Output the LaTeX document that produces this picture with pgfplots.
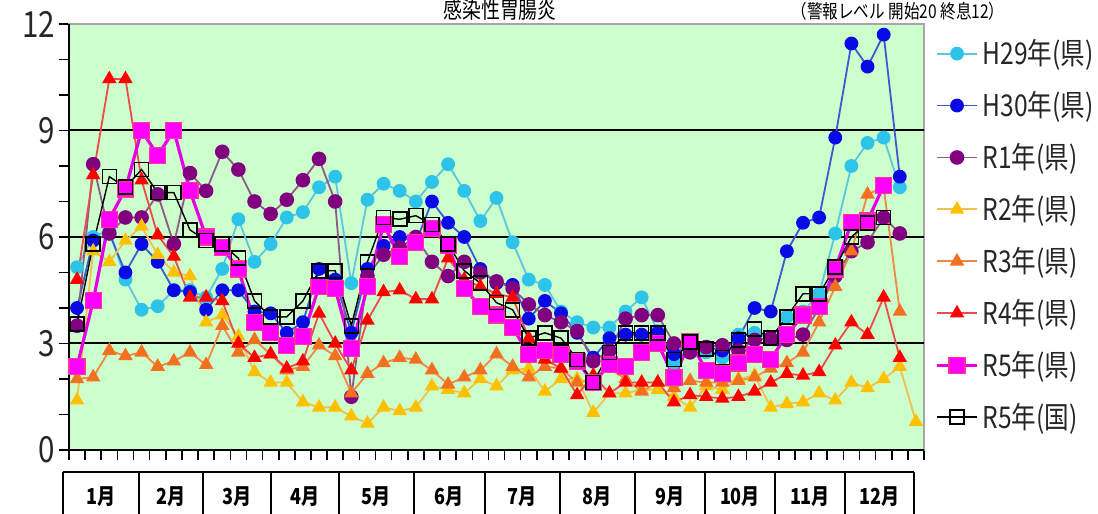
\documentclass[border=0pt]{standalone}
\usepackage{pgfplots}
\pgfplotsset{compat=1.18}
\usepackage{fontspec}
\setmainfont{Noto Sans CJK JP}[FakeStretch=0.82]
\definecolor{bggreen}{HTML}{CCFFCC}
\definecolor{mH29}{HTML}{2EC4EA}\definecolor{lH29}{HTML}{5CC6E0}
\definecolor{mH30}{HTML}{0A0AE6}\definecolor{lH30}{HTML}{3A5AD0}
\definecolor{mR1}{HTML}{800080}\definecolor{lR1}{HTML}{8A5A8A}
\definecolor{mR2}{HTML}{FFC000}\definecolor{lR2}{HTML}{F0C050}
\definecolor{mR3}{HTML}{F37021}\definecolor{lR3}{HTML}{EE8844}
\definecolor{mR4}{HTML}{FF0000}\definecolor{lR4}{HTML}{E84C4C}
\definecolor{mR5}{HTML}{FF00FF}\definecolor{dR5}{HTML}{FF3399}\definecolor{lR5}{HTML}{E400E4}
\begin{document}
\begin{tikzpicture}
\useasboundingbox (0,0) rectangle (549pt,257pt);
\begin{axis}[
  at={(34.5pt,32pt)}, anchor=south west,
  scale only axis, width=427.5pt, height=213pt,
  xmin=0.5, xmax=53.5, ymin=0, ymax=12,
  axis background/.style={fill=bggreen},
  axis line style={draw=gray!70, line width=0.6pt},
  xtick={0.5,1.5,...,53.5}, xticklabels={},
  ytick={0,3,6,9,12},
  minor ytick={1,2,4,5,7,8,10,11},
  tick align=outside, tick pos=left,
  major tick length=5pt, minor tick length=5pt,
  tick style={black, line width=0.8pt},
  /pgf/number format/assume math mode=true,
  yticklabel style={font=\fontsize{18}{18}\selectfont, text=black!85, xshift=1.5pt},
  extra y ticks={3,6,9}, extra y tick labels={},
  extra y tick style={grid=major, major tick length=0pt},
  major grid style={black, line width=1pt},
  clip=false,
  legend style={at={(1.0129,0.974)}, anchor=north west, draw=none, fill=none,
    font=\fontsize{15}{15}\selectfont, text=black!85, row sep=7.8pt, inner sep=0pt,
    /tikz/every even column/.append style={column sep=3pt}},
  legend cell align=left,
  legend image code/.code={\draw[mark repeat=2,mark phase=2] plot coordinates {(0pt,0pt) (10pt,0pt) (20pt,0pt)};},
]
\addplot[color=lH29, line width=0.9pt, mark=*, mark size=3pt, mark options={fill=mH29, draw=mH29}] coordinates {
(1,5.15)(2,6.0)(3,6.2)(4,4.8)(5,3.95)(6,4.05)(7,4.5)(8,4.5)(9,4.3)(10,5.1)
(11,6.5)(12,5.3)(13,5.8)(14,6.55)(15,6.7)(16,7.4)(17,7.7)(18,4.7)(19,7.05)(20,7.5)
(21,7.3)(22,7.0)(23,7.55)(24,8.05)(25,7.3)(26,6.45)(27,7.1)(28,5.85)(29,4.8)(30,4.65)
(31,3.9)(32,3.6)(33,3.45)(34,3.45)(35,3.9)(36,4.3)(37,3.35)(38,2.45)(39,2.9)(40,2.75)
(41,2.6)(42,3.25)(43,3.3)(44,3.15)(45,3.75)(46,3.9)(47,4.4)(48,6.1)(49,8.0)(50,8.65)
(51,8.8)(52,7.4)};
\addlegendentry{H29年(県)}
\addplot[color=lH30, line width=0.9pt, mark=*, mark size=3pt, mark options={fill=mH30, draw=mH30}] coordinates {
(1,4.0)(2,5.9)(3,6.1)(4,5.0)(5,5.8)(6,5.3)(7,4.5)(8,4.45)(9,3.95)(10,4.5)
(11,4.5)(12,3.9)(13,3.85)(14,3.3)(15,3.6)(16,5.1)(17,4.8)(18,3.3)(19,5.1)(20,5.75)
(21,6.0)(22,5.85)(23,7.0)(24,6.4)(25,6.0)(26,5.1)(27,4.7)(28,4.65)(29,3.7)(30,4.2)
(31,3.85)(32,3.3)(33,2.6)(34,3.15)(35,3.25)(36,3.25)(37,3.3)(38,2.7)(39,3.0)(40,2.9)
(41,2.8)(42,3.15)(43,4.0)(44,3.9)(45,5.6)(46,6.4)(47,6.55)(48,8.8)(49,11.45)(50,10.8)
(51,11.7)(52,7.7)};
\addlegendentry{H30年(県)}
\addplot[color=lR1, line width=0.9pt, mark=*, mark size=3.2pt, mark options={fill=mR1, draw=mR1}] coordinates {
(1,3.5)(2,8.05)(3,6.1)(4,6.55)(5,6.55)(6,7.2)(7,5.8)(8,7.8)(9,7.3)(10,8.4)
(11,7.9)(12,7.0)(13,6.65)(14,7.05)(15,7.6)(16,8.2)(17,7.0)(18,1.5)(19,4.9)(20,5.5)
(21,5.7)(22,6.0)(23,5.3)(24,4.9)(25,5.3)(26,5.0)(27,4.75)(28,4.55)(29,4.1)(30,3.8)
(31,3.6)(32,3.35)(33,2.5)(34,2.8)(35,3.7)(36,3.8)(37,3.8)(38,3.0)(39,2.75)(40,2.9)
(41,2.95)(42,2.8)(43,3.1)(44,3.15)(45,3.1)(46,3.25)(47,4.0)(48,4.9)(49,5.6)(50,5.85)
(51,6.55)(52,6.1)};
\addlegendentry{R1年(県)}
\addplot[color=lR2, line width=0.9pt, mark=triangle*, mark size=3.3pt, mark options={fill=mR2, draw=mR2}] coordinates {
(1,1.4)(2,5.6)(3,5.3)(4,5.9)(5,6.3)(6,5.5)(7,5.0)(8,4.9)(9,3.6)(10,3.8)
(11,3.2)(12,2.2)(13,1.9)(14,1.9)(15,1.35)(16,1.2)(17,1.2)(18,0.95)(19,0.75)(20,1.2)
(21,1.1)(22,1.2)(23,1.8)(24,1.7)(25,1.6)(26,2.0)(27,1.8)(28,2.25)(29,2.3)(30,1.65)
(31,2.0)(32,2.0)(33,1.05)(34,1.6)(35,1.6)(36,1.7)(37,1.7)(38,1.5)(39,1.2)(40,1.8)
(41,1.7)(42,2.0)(43,2.1)(44,1.2)(45,1.3)(46,1.35)(47,1.6)(48,1.4)(49,1.9)(50,1.75)
(51,2.0)(52,2.35)(53,0.8)};
\addlegendentry{R2年(県)}
\addplot[color=lR3, line width=0.9pt, mark=triangle*, mark size=3.3pt, mark options={fill=mR3, draw=mR3}] coordinates {
(1,2.0)(2,2.05)(3,2.8)(4,2.65)(5,2.75)(6,2.35)(7,2.5)(8,2.75)(9,2.4)(10,3.5)
(11,2.75)(12,3.1)(13,2.7)(14,2.25)(15,2.35)(16,2.95)(17,2.65)(18,1.6)(19,2.15)(20,2.45)
(21,2.6)(22,2.55)(23,2.25)(24,1.85)(25,2.05)(26,2.25)(27,2.7)(28,2.35)(29,2.05)(30,2.35)
(31,2.3)(32,1.9)(33,2.0)(34,2.3)(35,2.0)(36,1.65)(37,1.9)(38,1.75)(39,1.95)(40,1.9)
(41,1.9)(42,1.95)(43,2.05)(44,2.3)(45,2.45)(46,2.75)(47,3.6)(48,4.6)(49,5.6)(50,7.2)
(51,7.4)(52,3.9)};
\addlegendentry{R3年(県)}
\addplot[color=lR4, line width=0.9pt, mark=triangle*, mark size=3.3pt, mark options={fill=mR4, draw=mR4}] coordinates {
(1,4.8)(2,7.75)(3,10.45)(4,10.45)(5,7.6)(6,6.05)(7,5.45)(8,4.3)(9,4.3)(10,4.2)
(11,3.0)(12,2.6)(13,2.7)(14,2.3)(15,2.5)(16,3.85)(17,3.0)(18,2.25)(19,3.65)(20,4.45)
(21,4.5)(22,4.25)(23,4.25)(24,5.4)(25,4.8)(26,4.6)(27,4.4)(28,4.3)(29,3.15)(30,2.55)
(31,2.3)(32,1.55)(33,2.1)(34,1.6)(35,1.9)(36,1.9)(37,1.9)(38,1.35)(39,1.55)(40,1.5)
(41,1.45)(42,1.5)(43,1.65)(44,1.9)(45,2.15)(46,2.1)(47,2.2)(48,2.95)(49,3.6)(50,3.25)
(51,4.3)(52,2.6)};
\addlegendentry{R4年(県)}
\addplot[color=lR5, line width=1.6pt, mark=square*, mark size=4pt, mark options={fill=mR5, draw=dR5, line width=0.6pt}] coordinates {
(1,2.35)(2,4.2)(3,6.5)(4,7.35)(5,9.0)(6,8.3)(7,9.0)(8,7.3)(9,6.0)(10,5.7)
(11,5.1)(12,3.6)(13,3.3)(14,2.95)(15,3.2)(16,4.6)(17,4.55)(18,2.85)(19,4.6)(20,6.35)
(21,5.45)(22,5.85)(23,6.25)(24,5.75)(25,4.55)(26,4.05)(27,3.8)(28,3.45)(29,2.7)(30,2.8)
(31,2.7)(32,2.5)(33,1.9)(34,2.4)(35,2.35)(36,2.75)(37,3.0)(38,2.05)(39,3.05)(40,2.25)
(41,2.15)(42,2.45)(43,2.7)(44,2.55)(45,3.25)(46,3.8)(47,4.05)(48,5.1)(49,6.4)(50,6.45)
(51,7.45)};
\addlegendentry{R5年(県)}
\addplot[color=black, line width=0.7pt, mark=square, mark size=3.5pt, mark options={draw=black, line width=0.8pt}] coordinates {
(1,3.55)(2,5.8)(3,7.7)(4,7.4)(5,7.9)(6,7.25)(7,7.25)(8,6.2)(9,5.9)(10,5.8)
(11,5.4)(12,4.2)(13,3.75)(14,3.75)(15,4.2)(16,5.05)(17,5.05)(18,3.5)(19,5.3)(20,6.55)
(21,6.5)(22,6.6)(23,6.35)(24,5.8)(25,5.05)(26,4.7)(27,4.15)(28,3.95)(29,3.15)(30,3.3)
(31,3.15)(32,2.55)(33,1.9)(34,2.75)(35,3.3)(36,3.3)(37,3.3)(38,2.55)(39,3.05)(40,2.85)
(41,2.6)(42,3.1)(43,3.4)(44,3.15)(45,3.75)(46,4.4)(47,4.4)(48,5.15)(49,6.0)(50,6.4)
(51,6.55)};
\addlegendentry{R5年(国)}
\draw[black, line width=1pt] (rel axis cs:0,1) -- (rel axis cs:0,0) -- (rel axis cs:1,0);
\end{axis}
% month table
\foreach \xx in {63,139,203,271,339,414,485,560,635,705,775,845,914}
  {\draw[line width=1pt] (\xx*0.5pt,0pt) -- (\xx*0.5pt,21pt);}
\draw[line width=1pt] (31.5pt,21pt) -- (457pt,21pt);
\foreach \cx/\lab in {101/1月,171/2月,237/3月,305/4月,376.5/5月,449.5/6月,522.5/7月,597.5/8月,670/9月,740/10月,810/11月,879.5/12月}
  {\node[font=\bfseries\fontsize{11}{11}\selectfont] at (\cx*0.5pt,8.5pt) {\lab};}
% title
\node[anchor=base, font=\fontsize{11.5}{11.5}\selectfont, inner sep=0pt] at (250pt,247.5pt) {感染性胃腸炎};
\node[anchor=base, font=\fontsize{9.5}{9.5}\selectfont, inner sep=0pt] at (449pt,247.5pt) {（警報レベル\ 開始20\ 終息12）};
\end{tikzpicture}
\end{document}
